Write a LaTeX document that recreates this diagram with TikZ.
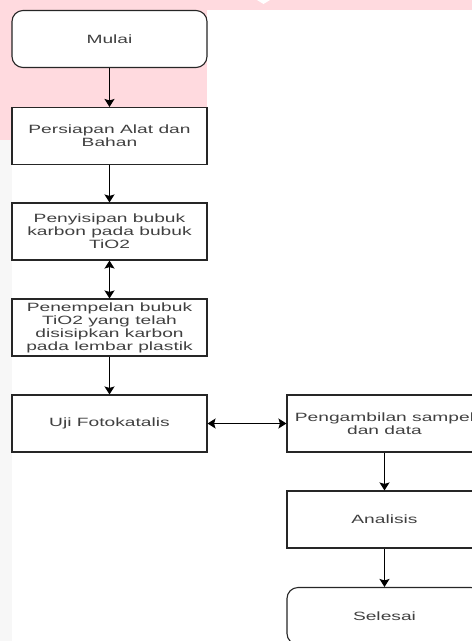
\documentclass[tikz,border=0pt]{standalone}
\usepackage{fontspec}
\setmainfont{Liberation Sans}[FakeStretch=1.6]
\usetikzlibrary{arrows.meta}
\definecolor{pinkbg}{RGB}{255,218,223}

\begin{document}
\begin{tikzpicture}[x=1pt, y=-1pt,
            box/.style={
              draw=black!85, line width=1.1pt, fill=white,
              minimum width=195pt, minimum height=57pt,
              inner sep=0pt, align=center, text=black!75,
              font=\fontsize{12}{13}\selectfont
            },
            rbox/.style={
              box, rounded corners=11pt
            },
            arr/.style={
              draw=black, line width=1.1pt,
              -{Stealth[length=8pt,width=10pt,inset=1.5pt]}
            },
            darr/.style={
              arr,
              {Stealth[length=8pt,width=10pt,inset=1.5pt]}-{Stealth[length=8pt,width=10pt,inset=1.5pt]}
            }
        ]
\clip (0,0) rectangle (472,641);
% background
\fill[pinkbg] (0,0) rectangle (472,10);
\fill[pinkbg] (0,0) rectangle (207,140);
\fill[white] (257,0) -- (270,0) -- (263.5,4) -- cycle;
\fill[black!3] (0,140) rectangle (12,641);

\def\xl{109.5}
\def\xr{384.5}

\node[rbox] (mulai) at (\xl, 39) {Mulai};

\foreach \n/\y/\t in {persiapan/136/{Persiapan Alat dan\\Bahan},
    penyisipan/231.5/{Penyisipan bubuk\\karbon pada bubuk\\TiO2},
    penempelan/327.5/{Penempelan bubuk\\TiO2 yang telah\\disisipkan karbon\\pada lembar plastik},
    uji/423.5/{Uji Fotokatalis}}
    \node[box] (\n) at (\xl, \y) {\t};

\node[box] (ambil) at (\xr, 423.5) {Pengambilan sampel\\dan data};
\node[box] (analisis) at (\xr, 519.5) {Analisis};
\node[rbox] (selesai) at (\xr, 616) {Selesai};

\foreach \a/\b in {mulai/persiapan, persiapan/penyisipan, penempelan/uji,
    ambil/analisis, analisis/selesai}
    \draw[arr] (\a) -- (\b);
\draw[darr] (penyisipan) -- (penempelan);
\draw[darr] (uji) -- (ambil);

\end{tikzpicture}
\end{document}
